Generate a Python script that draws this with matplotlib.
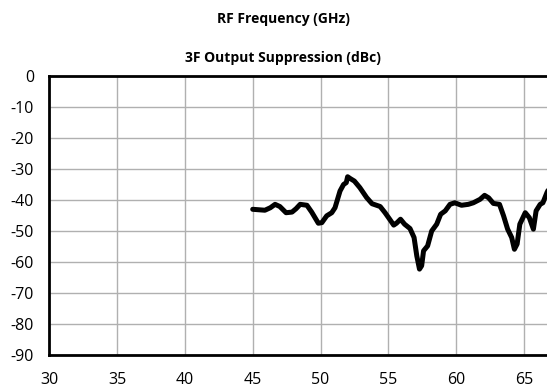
import matplotlib
matplotlib.use("Agg")
import matplotlib.pyplot as plt

# 3F output suppression vs RF frequency
freq_ghz = [45.0, 45.9, 46.3, 46.65, 47.0, 47.46, 47.9, 48.2, 48.5, 49.0,
            49.35, 49.84, 50.1, 50.46, 50.83, 51.07, 51.44, 51.7, 51.9, 52.0,
            52.2, 52.5, 52.9, 53.4, 53.8, 54.4, 54.76, 55.1, 55.4, 55.6,
            55.9, 56.2, 56.6, 56.9, 57.1, 57.3, 57.46, 57.6, 57.9, 58.2,
            58.57, 58.86, 59.2, 59.55, 59.9, 60.4, 60.9, 61.27, 61.76, 62.1,
            62.4, 62.75, 63.2, 63.5, 63.8, 64.1, 64.3, 64.5, 64.7, 65.1,
            65.4, 65.7, 65.9, 66.2, 66.4, 66.7, 67.0]
supp_dbc = [-43.0, -43.3, -42.5, -41.4, -42.1, -44.1, -43.9, -42.8, -41.4, -41.7,
            -43.9, -47.5, -47.3, -45.1, -44.1, -42.5, -37.1, -35.0, -34.4, -32.5,
            -33.1, -33.9, -36.0, -39.2, -41.2, -42.1, -44.1, -46.2, -48.1, -47.5,
            -46.2, -47.8, -49.2, -52.1, -58.0, -62.3, -61.2, -56.4, -54.8, -50.0,
            -47.8, -44.6, -43.5, -41.4, -40.9, -41.7, -41.4, -40.9, -39.8, -38.5,
            -39.3, -41.1, -41.4, -45.1, -49.4, -52.1, -55.9, -54.2, -47.8, -44.1,
            -45.7, -49.4, -43.5, -41.4, -40.9, -37.6, -35.0]

x_ticks = [30, 35, 40, 45, 50, 55, 60, 65]
y_ticks = [0, -10, -20, -30, -40, -50, -60, -70, -80, -90]

plt.rcParams['font.family'] = ['Open Sans', 'DejaVu Sans']
plt.rcParams['axes.unicode_minus'] = False

W, H = 547, 388
fig = plt.figure(figsize=(W / 100, H / 100), dpi=100)
ax = fig.add_axes([49.3 / W, 1 - 355 / H, 1 - 49.3 / W, (355 - 76) / H])

ax.plot(freq_ghz, supp_dbc, color='black', linewidth=3.6, solid_capstyle='round',
        solid_joinstyle='round', zorder=3)

ax.set_xlim(30, 30 + (W - 49.3) / 13.56)
ax.set_ylim(-90, 0)
ax.set_xticks(x_ticks)
ax.set_yticks(y_ticks)
ax.tick_params(length=0, labelsize=11.5, colors='black')
ax.tick_params(axis='y', pad=11)
ax.tick_params(axis='x', pad=12.5)
ax.grid(True, color='#b0b0b0', linewidth=1.0)
ax.set_axisbelow(True)

for side in ['left', 'bottom', 'top']:
    ax.spines[side].set_linewidth(2)
    ax.spines[side].set_color('black')
ax.spines['right'].set_visible(False)

fig.text(283 / W, 1 - 19 / H, 'RF Frequency (GHz)', ha='center', va='center',
         fontsize=10, fontweight='bold')
fig.text(283 / W, 1 - 58 / H, '3F Output Suppression (dBc)', ha='center', va='center',
         fontsize=10, fontweight='bold')

fig.savefig('out.png', dpi=100)
